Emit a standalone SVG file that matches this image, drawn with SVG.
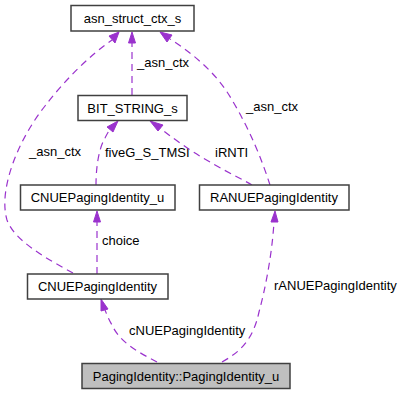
<svg xmlns="http://www.w3.org/2000/svg" width="402" height="395" viewBox="0 0 402 395">
  <style>
    .box { fill: #ffffff; stroke: #404040; stroke-width: 1.5; }
    .main { fill: #bfbfbf; }
    .lbl { font-family: "Liberation Sans", Arial, sans-serif; font-size: 13px; fill: #000000; }
    .mid { text-anchor: middle; }
    .edge { fill: none; stroke: #9a32cd; stroke-width: 1.2; stroke-dasharray: 7,5; }
    .head { fill: #9a32cd; stroke: #9a32cd; stroke-width: 1; }
  </style>
  <rect width="402" height="395" fill="#ffffff"/>

  <g id="connectors">
    <!-- CNUEPagingIdentity -> asn_struct_ctx_s -->
    <path class="edge" d="M73,273 C45,258 14,240 7,220 C-2,190 18,140 45,106 C64,81 90,55 112,40"/>
    <polygon class="head" points="119,32 109,36 115,43"/>
    <text class="lbl" x="29" y="156">_asn_ctx</text>

    <!-- BIT_STRING_s -> asn_struct_ctx_s -->
    <path class="edge" d="M132,95 L132,43"/>
    <polygon class="head" points="132,32 128.5,43 135.5,43"/>
    <text class="lbl" x="137" y="67">_asn_ctx</text>

    <!-- RANUEPagingIdentity -> asn_struct_ctx_s -->
    <path class="edge" d="M270,185 C262,160 250,130 232,100 C218,75 195,55 170,39"/>
    <polygon class="head" points="160,32 167,42 172,35"/>
    <text class="lbl" x="246" y="111">_asn_ctx</text>

    <!-- CNUEPagingIdentity_u -> BIT_STRING_s -->
    <path class="edge" d="M96,185 C96,170 98,150 105,138 C108,132 110,129 112,127"/>
    <polygon class="head" points="118,121 107,127 113,132"/>
    <text class="lbl" x="105" y="157">fiveG_S_TMSI</text>

    <!-- RANUEPagingIdentity -> BIT_STRING_s -->
    <path class="edge" d="M252,185 C235,175 200,160 160,128"/>
    <polygon class="head" points="150,121 158,131 163,125"/>
    <text class="lbl" x="215" y="157">iRNTI</text>

    <!-- CNUEPagingIdentity -> CNUEPagingIdentity_u -->
    <path class="edge" d="M97,274 L97,222"/>
    <polygon class="head" points="97,211 93.5,222 100.5,222"/>
    <text class="lbl" x="102" y="245">choice</text>

    <!-- PagingIdentity_u -> RANUEPagingIdentity -->
    <path class="edge" d="M222,362 C240,352 253,340 259,312 C265,290 272,255 274,222"/>
    <polygon class="head" points="275,211 271,222 278,222"/>
    <text class="lbl" x="274" y="290">rANUEPagingIdentity</text>

    <!-- PagingIdentity_u -> CNUEPagingIdentity -->
    <path class="edge" d="M157,362 C140,353 120,343 112,325 C109,320 107,315 105,310"/>
    <polygon class="head" points="101,299 101,311 108,309"/>
    <text class="lbl" x="129" y="335">cNUEPagingIdentity</text>
  </g>

  <g id="asn_struct_ctx_s">
    <rect class="box" x="71" y="5.5" width="123" height="25.5"/>
    <text class="lbl mid" x="132.5" y="23">asn_struct_ctx_s</text>
  </g>
  <g id="BIT_STRING_s">
    <rect class="box" x="78" y="95.5" width="109" height="25"/>
    <text class="lbl mid" x="132.5" y="113">BIT_STRING_s</text>
  </g>
  <g id="CNUEPagingIdentity_u">
    <rect class="box" x="20.5" y="185" width="154.5" height="25"/>
    <text class="lbl mid" x="97.5" y="202">CNUEPagingIdentity_u</text>
  </g>
  <g id="RANUEPagingIdentity">
    <rect class="box" x="199.5" y="185" width="149.5" height="25"/>
    <text class="lbl mid" x="274" y="202">RANUEPagingIdentity</text>
  </g>
  <g id="CNUEPagingIdentity">
    <rect class="box" x="27.5" y="274" width="140.5" height="25"/>
    <text class="lbl mid" x="97.5" y="291">CNUEPagingIdentity</text>
  </g>
  <g id="PagingIdentity_u">
    <rect class="box main" x="82" y="363.5" width="208" height="25"/>
    <text class="lbl mid" x="186" y="381">PagingIdentity::PagingIdentity_u</text>
  </g>
</svg>
